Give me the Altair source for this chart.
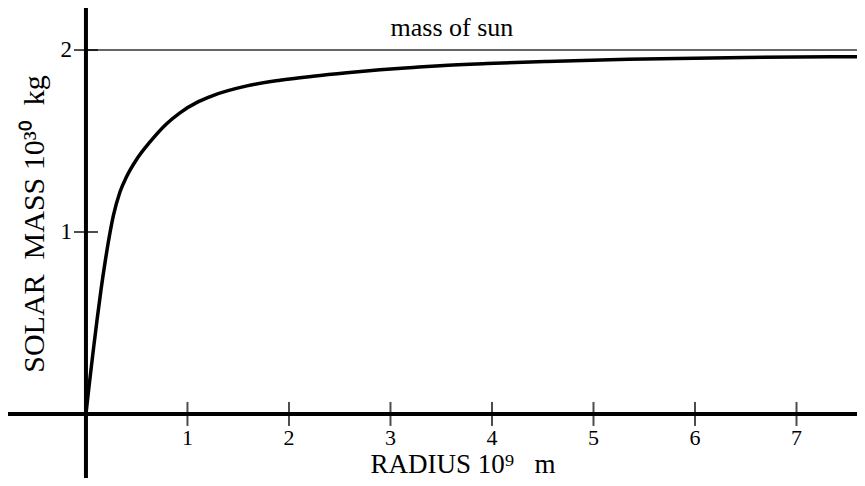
import altair as alt
import pandas as pd

# ---- data ----
radius = [0.0, 0.03, 0.07, 0.11, 0.15, 0.19, 0.23, 0.27, 0.335, 0.401,
          0.500, 0.631, 0.795, 0.926, 1.103, 1.251, 1.586, 1.911, 2.236, 2.571,
          2.897, 3.222, 3.488, 3.951, 4.542, 5.340, 6.493, 7.70]
mass = [0.0, 0.15, 0.34, 0.52, 0.69, 0.84, 0.975, 1.09, 1.22, 1.305,
        1.40, 1.495, 1.595, 1.655, 1.715, 1.75, 1.803, 1.834, 1.856, 1.875,
        1.891, 1.904, 1.914, 1.926, 1.937, 1.949, 1.959, 1.964]
x_ticks = [1, 2, 3, 4, 5, 6, 7]
y_ticks = [1, 2]
sun_mass = 2.0

X_DOM = [-0.768, 7.596]
Y_DOM = [-0.352, 2.231]
FONT = "Liberation Serif"

xs = alt.Scale(domain=X_DOM, nice=False, zero=False)
ys = alt.Scale(domain=Y_DOM, nice=False, zero=False)

curve_df = pd.DataFrame({"r": radius, "m": mass})
xt_df = pd.DataFrame({"v": x_ticks, "label": [str(v) for v in x_ticks]})
yt_df = pd.DataFrame({"v": y_ticks, "label": [str(v) for v in y_ticks]})
one = pd.DataFrame({"a": [0]})

curve = alt.Chart(curve_df).mark_line(color="black", strokeWidth=3.5, interpolate="monotone", clip=True).encode(
    x=alt.X("r:Q", scale=xs, axis=None),
    y=alt.Y("m:Q", scale=ys, axis=None),
)

x_axis = alt.Chart(one).mark_rule(color="black", strokeWidth=4).encode(
    x=alt.X(datum=X_DOM[0], scale=xs, axis=None), x2=alt.X2(datum=X_DOM[1]),
    y=alt.Y(datum=0, scale=ys, axis=None),
)
y_axis = alt.Chart(one).mark_rule(color="black", strokeWidth=4).encode(
    x=alt.X(datum=0, scale=xs, axis=None),
    y=alt.Y(datum=Y_DOM[0], scale=ys, axis=None), y2=alt.Y2(datum=Y_DOM[1]),
)
sun_line = alt.Chart(one).mark_rule(color="#333333", strokeWidth=1.6).encode(
    x=alt.X(datum=0, scale=xs, axis=None), x2=alt.X2(datum=X_DOM[1]),
    y=alt.Y(datum=sun_mass, scale=ys, axis=None),
)

x_tick_marks = alt.Chart(xt_df).mark_tick(color="black", thickness=2, size=24, orient="vertical").encode(
    x=alt.X("v:Q", scale=xs, axis=None),
    y=alt.Y(datum=0, scale=ys, axis=None),
)
y_tick_marks = alt.Chart(yt_df).mark_tick(color="black", thickness=2, size=24, orient="horizontal").encode(
    x=alt.X(datum=0, scale=xs, axis=None),
    y=alt.Y("v:Q", scale=ys, axis=None),
)

x_labels = alt.Chart(xt_df).mark_text(font=FONT, fontSize=22, color="black", baseline="alphabetic", dy=31).encode(
    x=alt.X("v:Q", scale=xs, axis=None),
    y=alt.Y(datum=0, scale=ys, axis=None),
    text="label:N",
)
y_labels = alt.Chart(yt_df).mark_text(font=FONT, fontSize=23, color="black", align="right", baseline="middle", dx=-14).encode(
    x=alt.X(datum=0, scale=xs, axis=None),
    y=alt.Y("v:Q", scale=ys, axis=None),
    text="label:N",
)

sun_text = alt.Chart(one).mark_text(font=FONT, fontSize=26, color="black", align="center", baseline="alphabetic",
                                    text="mass of sun").encode(
    x=alt.X(datum=3.606, scale=xs, axis=None),
    y=alt.Y(datum=2.077, scale=ys, axis=None),
)
x_title = alt.Chart(one).mark_text(font=FONT, fontSize=27, color="black", align="center", baseline="alphabetic",
                                   text="RADIUS 10\u2079\u00a0\u00a0 m").encode(
    x=alt.X(datum=3.714, scale=xs, axis=None),
    y=alt.Y(datum=-0.322, scale=ys, axis=None),
)
y_title = alt.Chart(one).mark_text(font=FONT, fontSize=30, color="black", align="center", baseline="middle", angle=270,
                                   text="SOLAR\u00a0 MASS 10\u00b3\u2070\u00a0 kg").encode(
    x=alt.X(datum=-0.502, scale=xs, axis=None),
    y=alt.Y(datum=1.044, scale=ys, axis=None),
)

chart = alt.layer(
    sun_line, x_axis, y_axis, x_tick_marks, y_tick_marks, curve,
    x_labels, y_labels, sun_text, x_title, y_title,
).properties(
    width=849, height=470, padding=0, autosize=alt.AutoSizeParams(type="none"),
    background="white",
).configure_view(stroke=None)

chart.save("out.html", embed_options={"renderer": "svg", "actions": False})
